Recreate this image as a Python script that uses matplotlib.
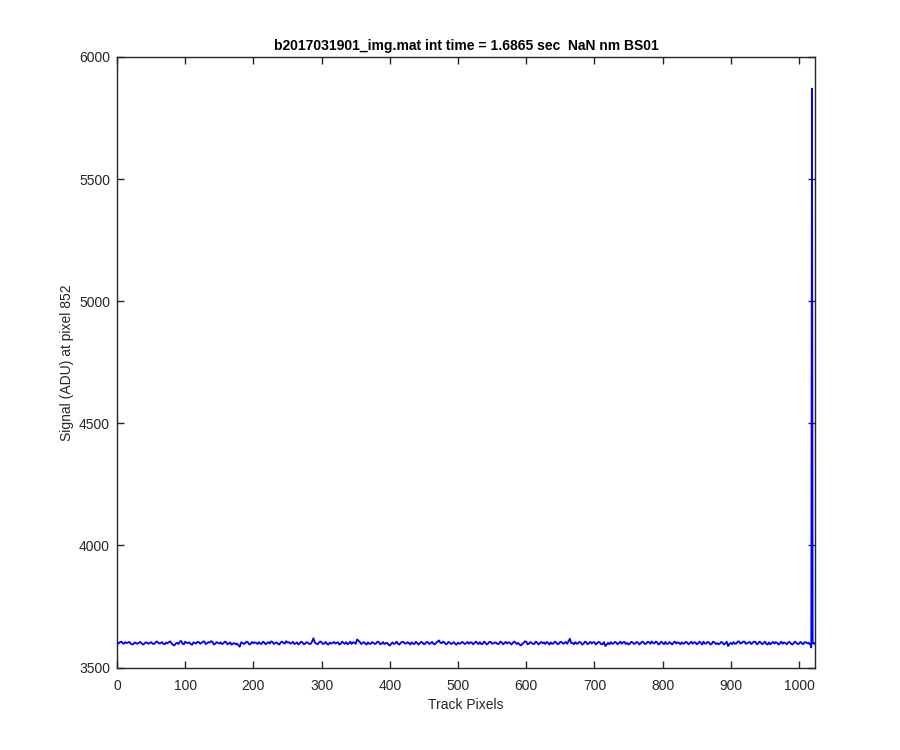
import numpy as np
import matplotlib
matplotlib.use("Agg")
import matplotlib.pyplot as plt

plt.rcParams['font.family'] = ['Liberation Sans', 'DejaVu Sans']

title_text = "b2017031901_img.mat int time = 1.6865 sec  NaN nm BS01"
xlabel_text = "Track Pixels"
ylabel_text = "Signal (ADU) at pixel 852"

# Signal at track pixels 0, 4, 8, ... 1012
signal_even4 = [
    3605, 3603, 3601, 3604, 3602, 3598, 3596, 3600, 3601, 3599, 3597, 3602, 3600, 3598, 3601, 3603,
    3600, 3597, 3602, 3604, 3599, 3590, 3601, 3605, 3598, 3606, 3600, 3596, 3603, 3598, 3604, 3601,
    3607, 3599, 3602, 3605, 3597, 3601, 3603, 3599, 3604, 3598, 3593, 3600, 3598, 3585, 3601, 3600,
    3603, 3597, 3599, 3601, 3604, 3596, 3602, 3600, 3598, 3605, 3600, 3597, 3603, 3601, 3608, 3604,
    3600, 3596, 3603, 3599, 3602, 3598, 3601, 3597, 3620, 3598, 3601, 3603, 3599, 3596, 3602, 3600,
    3598, 3603, 3597, 3601, 3604, 3599, 3596, 3602, 3615, 3605, 3600, 3598, 3603, 3597, 3601, 3599,
    3604, 3598, 3596, 3601, 3590, 3603, 3599, 3597, 3601, 3605, 3598, 3600, 3603, 3596, 3601, 3599,
    3602, 3598, 3603, 3600, 3597, 3601, 3611, 3599, 3603, 3597, 3601, 3600, 3596, 3602, 3599, 3601,
    3600, 3597, 3603, 3599, 3601, 3604, 3596, 3602, 3598, 3605, 3599, 3601, 3597, 3603, 3600, 3598,
    3602, 3599, 3603, 3601, 3590, 3600, 3606, 3598, 3601, 3597, 3602, 3600, 3599, 3596, 3601, 3603,
    3599, 3602, 3598, 3604, 3600, 3597, 3618, 3601, 3604, 3599, 3602, 3597, 3603, 3600, 3598, 3604,
    3599, 3602, 3596, 3588, 3601, 3604, 3598, 3602, 3600, 3597, 3605, 3601, 3598, 3603, 3599, 3601,
    3600, 3603, 3598, 3604, 3607, 3599, 3603, 3598, 3601, 3605, 3597, 3600, 3602, 3598, 3601, 3603,
    3599, 3602, 3600, 3597, 3603, 3599, 3601, 3606, 3598, 3602, 3597, 3603, 3600, 3598, 3601, 3599,
    3588, 3601, 3604, 3598, 3607, 3600, 3606, 3599, 3604, 3601, 3605, 3598, 3602, 3600, 3597, 3603,
    3600, 3598, 3601, 3599, 3597, 3600, 3602, 3598, 3599, 3601, 3597, 3600, 3603, 3599,
]
# Signal at track pixels 2, 6, 10, ... 1010
signal_odd4 = [
    3598, 3606, 3597, 3600, 3605, 3594, 3603, 3597, 3605, 3594, 3603, 3597, 3604, 3596, 3607, 3598,
    3604, 3595, 3599, 3607, 3593, 3598, 3596, 3609, 3595, 3601, 3603, 3593, 3600, 3605, 3597, 3606,
    3596, 3604, 3608, 3594, 3604, 3598, 3596, 3606, 3595, 3603, 3598, 3595, 3591, 3603, 3596, 3606,
    3594, 3605, 3603, 3596, 3598, 3606, 3595, 3604, 3607, 3596, 3603, 3594, 3606, 3598, 3602, 3598,
    3605, 3599, 3594, 3606, 3595, 3604, 3596, 3606, 3603, 3595, 3607, 3596, 3605, 3594, 3598, 3605,
    3601, 3594, 3606, 3597, 3595, 3606, 3603, 3597, 3610, 3596, 3604, 3594, 3597, 3604, 3596, 3606,
    3595, 3604, 3600, 3594, 3597, 3596, 3606, 3594, 3605, 3598, 3604, 3594, 3598, 3605, 3594, 3605,
    3595, 3605, 3596, 3605, 3595, 3606, 3602, 3606, 3595, 3605, 3596, 3604, 3594, 3597, 3605, 3596,
    3605, 3603, 3595, 3606, 3596, 3596, 3606, 3594, 3605, 3597, 3603, 3596, 3606, 3595, 3605, 3603,
    3594, 3606, 3596, 3595, 3596, 3607, 3595, 3604, 3596, 3606, 3594, 3605, 3603, 3605, 3594, 3597,
    3606, 3595, 3605, 3597, 3605, 3608, 3600, 3595, 3597, 3605, 3594, 3606, 3595, 3605, 3603, 3594,
    3605, 3595, 3604, 3594, 3595, 3597, 3605, 3595, 3606, 3603, 3596, 3594, 3605, 3596, 3605, 3594,
    3606, 3596, 3605, 3597, 3600, 3606, 3594, 3606, 3595, 3597, 3604, 3594, 3606, 3603, 3595, 3597,
    3605, 3595, 3606, 3603, 3595, 3606, 3594, 3598, 3605, 3594, 3606, 3596, 3595, 3605, 3594, 3606,
    3596, 3595, 3597, 3606, 3598, 3606, 3597, 3603, 3596, 3606, 3595, 3606, 3595, 3606, 3594, 3595,
    3605, 3604, 3594, 3606, 3603, 3595, 3605, 3594, 3606, 3596, 3605, 3595, 3604,
]
# Final pixels near the edge (1014 .. 1023), including the spike
tail_pixels = [1014, 1015, 1016, 1017, 1018, 1019, 1020, 1021, 1022, 1023]
tail_signal = [3601, 3597, 3598, 3590, 3582, 5870, 3600, 3598, 3597, 3600]

x_all = np.concatenate([np.arange(len(signal_even4)) * 4,
                        np.arange(len(signal_odd4)) * 4 + 2,
                        tail_pixels])
y_all = np.concatenate([signal_even4, signal_odd4, tail_signal])
order = np.argsort(x_all, kind='stable')
x = x_all[order]
y = y_all[order]

xticks = [0, 100, 200, 300, 400, 500, 600, 700, 800, 900, 1000]
yticks = [3500, 4000, 4500, 5000, 5500, 6000]

fig = plt.figure(figsize=(9, 7.5), dpi=100)
ax = fig.add_axes([0.13, 0.11, 0.776, 0.814])
axcol = (0.15, 0.15, 0.15)
for s in ax.spines.values():
    s.set_color(axcol)
    s.set_linewidth(1.0)
ax.tick_params(direction='in', top=True, right=True, length=5, width=1.0,
               colors=axcol, labelsize=10)
ax.tick_params(axis='x', pad=8.5)
ax.tick_params(axis='y', pad=5)
ax.plot(x, y, color=(0, 0, 1), linewidth=1.3, zorder=5)
ax.set_xlim(0, 1024)
ax.set_ylim(3500, 6000)
ax.set_xticks(xticks)
ax.set_yticks(yticks)
ax.set_title(title_text, fontsize=10, fontweight='bold', color='black', pad=5)
ax.set_xlabel(xlabel_text, fontsize=10, color=axcol, labelpad=3.5)
ax.set_ylabel(ylabel_text, fontsize=10, color=axcol, labelpad=3.5)
fig.savefig("out.png", dpi=100, facecolor='white')
